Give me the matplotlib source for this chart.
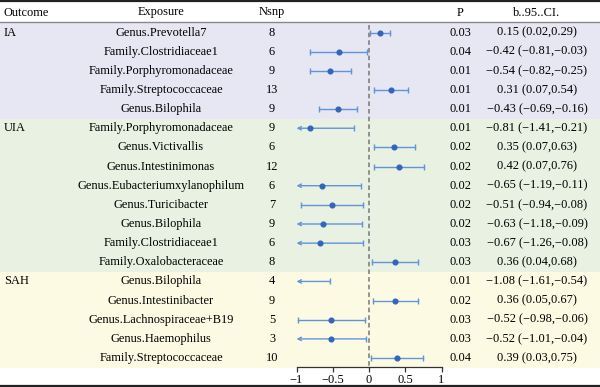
import matplotlib
matplotlib.use("Agg")
import matplotlib.pyplot as plt
import numpy as np

plt.rcParams['font.family'] = ['Liberation Serif', 'DejaVu Serif']
plt.rcParams['axes.unicode_minus'] = True

outcomes = ["IA", "", "", "", "",
            "UIA", "", "", "", "", "", "", "",
            "SAH", "", "", "", ""]
groups = ["IA"] * 5 + ["UIA"] * 8 + ["SAH"] * 5
exposures = ["Genus.Prevotella7", "Family.Clostridiaceae1", "Family.Porphyromonadaceae",
             "Family.Streptococcaceae", "Genus.Bilophila",
             "Family.Porphyromonadaceae", "Genus.Victivallis", "Genus.Intestinimonas",
             "Genus.Eubacteriumxylanophilum", "Genus.Turicibacter", "Genus.Bilophila",
             "Family.Clostridiaceae1", "Family.Oxalobacteraceae",
             "Genus.Bilophila", "Genus.Intestinibacter", "Genus.Lachnospiraceae+B19",
             "Genus.Haemophilus", "Family.Streptococcaceae"]
nsnp = [8, 6, 9, 13, 9, 9, 6, 12, 6, 7, 9, 6, 8, 4, 9, 5, 3, 10]
pvals = ["0.03", "0.04", "0.01", "0.01", "0.01",
         "0.01", "0.02", "0.02", "0.02", "0.02", "0.02", "0.03", "0.03",
         "0.01", "0.02", "0.03", "0.03", "0.04"]
beta = [0.15, -0.42, -0.54, 0.31, -0.43,
        -0.81, 0.35, 0.42, -0.65, -0.51, -0.63, -0.67, 0.36,
        -1.08, 0.36, -0.52, -0.52, 0.39]
lower = [0.02, -0.81, -0.82, 0.07, -0.69,
         -1.41, 0.07, 0.07, -1.19, -0.94, -1.18, -1.26, 0.04,
         -1.61, 0.05, -0.98, -1.01, 0.03]
upper = [0.29, -0.03, -0.25, 0.54, -0.16,
         -0.21, 0.63, 0.76, -0.11, -0.08, -0.09, -0.08, 0.68,
         -0.54, 0.67, -0.06, -0.04, 0.75]
xticks = [-1, -0.5, 0, 0.5, 1]
xticklabels = ["\u22121", "\u22120.5", "0", "0.5", "1"]
group_colors = {"IA": "#e7e6f3", "UIA": "#e8f1e2", "SAH": "#fcfae3"}

W, H = 600, 387
fig = plt.figure(figsize=(6.0, 3.87), dpi=100)
bg = fig.add_axes([0, 0, 1, 1], zorder=0)
bg.set_xlim(0, W)
bg.set_ylim(H, 0)
bg.axis('off')

y0, dy = 32.5, 19.15
n = len(exposures)
ys = [y0 + dy * i for i in range(n)]
fs = 8.9

# bands
i = 0
while i < n:
    j = i
    while j + 1 < n and groups[j + 1] == groups[i]:
        j += 1
    top = 22 if i == 0 else ys[i] - dy / 2
    bot = ys[j] + dy / 2
    bg.add_patch(plt.Rectangle((0, top), W, bot - top, color=group_colors[groups[i]], lw=0))
    i = j + 1

# lines
bg.plot([0, W], [1, 1], color="#222222", lw=1.6)
bg.plot([0, W], [22, 22], color="#888888", lw=1.0)
bg.plot([0, W], [386, 386], color="#222222", lw=1.6)

# header
hy = 12.5
bg.text(4, hy, "Outcome", ha='left', va='center', fontsize=fs)
bg.text(161, hy, "Exposure", ha='center', va='center', fontsize=fs)
bg.text(272, hy, "Nsnp", ha='center', va='center', fontsize=fs)
bg.text(460, hy, "P", ha='center', va='center', fontsize=fs)
bg.text(537, hy, "b..95..CI.", ha='center', va='center', fontsize=fs)

def fmt(v):
    return f"{v:.2f}".replace("-", "\u2212")

for k in range(n):
    y = ys[k]
    if outcomes[k]:
        bg.text(4, y, outcomes[k], ha='left', va='center', fontsize=fs)
    bg.text(161, y, exposures[k], ha='center', va='center', fontsize=fs)
    bg.text(272, y, str(nsnp[k]), ha='center', va='center', fontsize=fs)
    bg.text(460, y, pvals[k], ha='center', va='center', fontsize=fs)
    bg.text(537, y, f"{fmt(beta[k])} ({fmt(lower[k])},{fmt(upper[k])})",
            ha='center', va='center', fontsize=fs)

# forest axes
scale = 72.5
zero_px = 369.0
xmin, xmax = -1.06, 1.0
left_px = zero_px + scale * xmin
right_px = zero_px + scale * xmax
top_px, bot_px = 22, 367
ax = fig.add_axes([left_px / W, 1 - bot_px / H, (right_px - left_px) / W, (bot_px - top_px) / H],
                  zorder=1)
ax.set_facecolor('none')
ax.set_xlim(xmin, xmax)
ax.set_ylim(bot_px, top_px)
for s in ['top', 'right', 'left']:
    ax.spines[s].set_visible(False)
ax.spines['bottom'].set_bounds(-1, 1)
ax.spines['bottom'].set_color("#333333")
ax.spines['bottom'].set_linewidth(0.9)
ax.set_yticks([])
ax.set_xticks(xticks)
ax.set_xticklabels(xticklabels, fontsize=fs)
ax.tick_params(axis='x', direction='out', length=3.5, width=0.9, pad=1.5, color="#333333")

ax.plot([0, 0], [25, bot_px], color="#777777", lw=1.1, ls=(0, (3, 2)))

line_c = "#6294d8"
pt_c = "#3366bb"
for k in range(n):
    y = ys[k]
    lo, hi, b = lower[k], upper[k], beta[k]
    if lo < -1:
        ax.annotate('', xy=(-1.0, y), xytext=(hi, y),
                    arrowprops=dict(arrowstyle='->', color=line_c, lw=1.0,
                                    shrinkA=0, shrinkB=0, mutation_scale=6),
                    annotation_clip=False)
    else:
        ax.plot([lo, hi], [y, y], color=line_c, lw=1.0)
        ax.plot([lo], [y], marker='|', color=line_c, ms=5, mew=1.0)
    ax.plot([hi], [y], marker='|', color=line_c, ms=5, mew=1.0)
    if b >= -1:
        ax.plot([b], [y], marker='o', color=pt_c, ms=3.4, zorder=3)

fig.savefig("out.png", dpi=100)
